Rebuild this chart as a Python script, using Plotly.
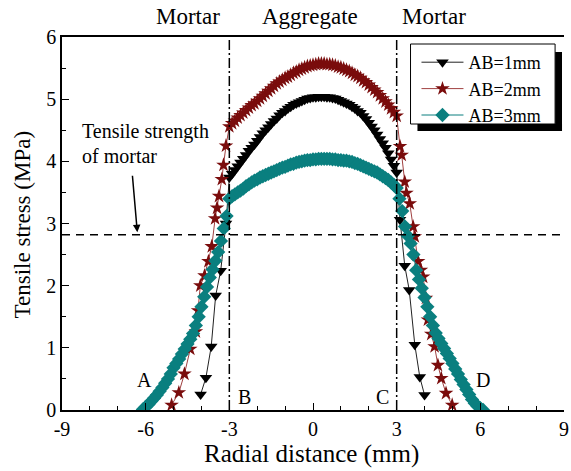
import plotly.graph_objects as go

# ---------------- data ----------------
inner_x = [-3.0, -2.9, -2.8, -2.7, -2.6, -2.5, -2.4, -2.3, -2.2, -2.1, -2.0, -1.9, -1.8, -1.7, -1.6,
           -1.5, -1.4, -1.3, -1.2, -1.1, -1.0, -0.9, -0.8, -0.7, -0.6, -0.5, -0.4, -0.3, -0.2, -0.1,
           0.0, 0.1, 0.2, 0.3, 0.4, 0.5, 0.6, 0.7, 0.8, 0.9, 1.0, 1.1, 1.2, 1.3, 1.4,
           1.5, 1.6, 1.7, 1.8, 1.9, 2.0, 2.1, 2.2, 2.3, 2.4, 2.5, 2.6, 2.7, 2.8, 2.9, 3.0]

ab1_inner = [3.74, 3.80, 3.86, 3.92, 3.98, 4.04, 4.10, 4.17, 4.22, 4.27, 4.33, 4.39, 4.45, 4.50, 4.55,
             4.60, 4.65, 4.69, 4.74, 4.78, 4.81, 4.85, 4.88, 4.91, 4.93, 4.95, 4.97, 4.99, 5.01, 5.02,
             5.03, 5.03, 5.04, 5.04, 5.04, 5.03, 5.03, 5.02, 5.01, 4.99, 4.97, 4.95, 4.93, 4.91, 4.88,
             4.85, 4.81, 4.78, 4.73, 4.68, 4.62, 4.56, 4.50, 4.43, 4.36, 4.29, 4.22, 4.13, 4.03, 3.93, 3.82]
ab1_left_x = [-4.03, -3.84, -3.65, -3.49, -3.31, -3.12]
ab1_left_y = [0.25, 0.52, 1.02, 1.84, 2.24, 3.00]
ab1_right_x = [3.12, 3.29, 3.45, 3.65, 3.83, 4.00]
ab1_right_y = [3.06, 2.32, 1.93, 1.05, 0.53, 0.24]

ab2_inner = [4.56, 4.61, 4.65, 4.70, 4.74, 4.78, 4.82, 4.86, 4.90, 4.93, 4.97, 5.01, 5.05, 5.09, 5.13,
             5.17, 5.21, 5.25, 5.28, 5.31, 5.34, 5.36, 5.39, 5.42, 5.44, 5.47, 5.49, 5.51, 5.53, 5.54,
             5.55, 5.56, 5.57, 5.57, 5.57, 5.56, 5.56, 5.55, 5.54, 5.52, 5.51, 5.49, 5.47, 5.45, 5.42,
             5.39, 5.37, 5.34, 5.30, 5.27, 5.23, 5.19, 5.15, 5.11, 5.06, 5.01, 4.96, 4.91, 4.85, 4.79, 4.73]
ab2_left_x = [-5.07, -4.81, -4.61, -4.40, -4.20, -4.12, -4.04, -3.89, -3.75, -3.63, -3.51, -3.44,
              -3.37, -3.27, -3.21, -3.12]
ab2_left_y = [0.08, 0.28, 0.58, 0.98, 1.26, 1.60, 2.00, 2.16, 2.39, 2.63, 3.08, 3.25,
              3.44, 3.71, 3.94, 4.25]
ab2_right_x = [3.12, 3.18, 3.29, 3.35, 3.47, 3.59, 3.65, 3.77, 3.87, 3.95, 4.05, 4.12, 4.24,
               4.36, 4.48, 4.60, 4.77, 4.99]
ab2_right_y = [4.24, 4.10, 3.67, 3.49, 3.32, 2.95, 2.79, 2.39, 2.25, 2.14, 1.80, 1.45, 1.22,
               1.02, 0.72, 0.51, 0.27, 0.08]

ab3_inner = [3.40, 3.44, 3.47, 3.50, 3.53, 3.56, 3.60, 3.63, 3.66, 3.69, 3.71, 3.74, 3.76, 3.78, 3.80,
             3.82, 3.84, 3.86, 3.88, 3.90, 3.91, 3.93, 3.95, 3.96, 3.98, 3.99, 4.00, 4.01, 4.02, 4.02,
             4.03, 4.03, 4.04, 4.04, 4.04, 4.04, 4.04, 4.03, 4.03, 4.02, 4.02, 4.01, 4.01, 4.00, 3.99,
             3.97, 3.96, 3.94, 3.92, 3.90, 3.88, 3.86, 3.84, 3.82, 3.79, 3.76, 3.73, 3.70, 3.66, 3.62, 3.57]
ab3_left_x = [-6.1, -6.0, -5.9, -5.8, -5.7, -5.6, -5.5, -5.4, -5.3, -5.2, -5.1, -5.0, -4.9, -4.8,
              -4.7, -4.6, -4.5, -4.4, -4.3, -4.2, -4.1, -4.0, -3.9, -3.8, -3.7, -3.6, -3.5, -3.4,
              -3.3, -3.2, -3.1]
ab3_left_y = [0.01, 0.05, 0.09, 0.14, 0.19, 0.24, 0.30, 0.36, 0.43, 0.50, 0.58, 0.68, 0.75, 0.82,
              0.90, 0.98, 1.06, 1.14, 1.23, 1.36, 1.50, 1.66, 1.82, 1.98, 2.13, 2.26, 2.40, 2.54,
              2.72, 2.92, 3.12]
ab3_right_x = [3.1, 3.2, 3.3, 3.4, 3.5, 3.6, 3.7, 3.8, 3.9, 4.0, 4.1, 4.2, 4.3, 4.4, 4.5, 4.6,
               4.7, 4.8, 4.9, 5.0, 5.1, 5.2, 5.3, 5.4, 5.5, 5.6, 5.7, 5.8, 5.9, 6.0, 6.1]
ab3_right_y = [3.40, 3.20, 2.95, 2.80, 2.68, 2.50, 2.25, 2.10, 1.96, 1.81, 1.66, 1.50, 1.36, 1.24,
               1.15, 1.07, 0.99, 0.91, 0.83, 0.75, 0.66, 0.58, 0.49, 0.41, 0.33, 0.25, 0.17, 0.11,
               0.06, 0.03, 0.00]

series_names = ["AB=1mm", "AB=2mm", "AB=3mm"]
mortar_strength = 2.82
interface_x = [-3, 3]
x_ticks = [-9, -6, -3, 0, 3, 6, 9]
y_ticks = [0, 1, 2, 3, 4, 5, 6]

FONT = "Liberation Serif"

# plot-area pixel geometry (used only to place paper-referenced decorations)
L, R, T, B = 62, 569, 37, 410
W, H = R - L, B - T


def px(xp):
    return (xp - L) / W


def py(yp):
    return (B - yp) / H


fig = go.Figure()


def add_series(name, lx, ly, iy, rx, ry, msym, msize, mcol, lcol):
    fig.add_trace(go.Scatter(
        x=lx + inner_x + rx, y=ly + iy + ry, name=name, mode="lines+markers",
        line=dict(color=lcol, width=1),
        marker=dict(symbol=msym, size=msize, color=mcol, line=dict(width=0)),
    ))


add_series(series_names[0], ab1_left_x, ab1_left_y, ab1_inner, ab1_right_x, ab1_right_y,
           "triangle-down", 11, "#000000", "#222222")
add_series(series_names[1], ab2_left_x, ab2_left_y, ab2_inner, ab2_right_x, ab2_right_y,
           "star", 11, "#7a0c0c", "#a04040")
add_series(series_names[2], ab3_left_x, ab3_left_y, ab3_inner, ab3_right_x, ab3_right_y,
           "diamond", 11, "#0a7f7f", "#0a7f7f")

# reference lines
fig.add_shape(type="line", xref="x", yref="y", x0=-9, x1=9, y0=mortar_strength, y1=mortar_strength,
              line=dict(color="black", width=1.5, dash="8px,6px"), layer="above")
for xv in interface_x:
    fig.add_shape(type="line", xref="x", yref="y", x0=xv, x1=xv, y0=0, y1=6,
                  line=dict(color="black", width=1.5, dash="10px,3px,2px,3px"), layer="above")

# legend frame + shadow
fig.add_shape(type="rect", xref="paper", yref="paper", x0=px(560), x1=px(567), y0=py(131), y1=py(52),
              line=dict(width=0), fillcolor="black", layer="above")
fig.add_shape(type="rect", xref="paper", yref="paper", x0=px(421), x1=px(567), y0=py(131), y1=py(124),
              line=dict(width=0), fillcolor="black", layer="above")
fig.add_shape(type="rect", xref="paper", yref="paper", x0=px(414), x1=px(560), y0=py(124), y1=py(44),
              line=dict(width=1, color="black"), fillcolor="white", layer="above")

tf = dict(family=FONT, size=20, color="black")
annotations = [
    dict(text="Tensile strength", xref="paper", yref="paper", x=px(80), y=py(131),
         xanchor="left", yanchor="middle", showarrow=False, font=tf),
    dict(text="of mortar", xref="paper", yref="paper", x=px(80), y=py(156),
         xanchor="left", yanchor="middle", showarrow=False, font=tf),
    dict(text="", x=-6.30, y=2.86, xref="x", yref="y", ax=-5, ay=-58, showarrow=True,
         arrowhead=2, arrowsize=1, arrowwidth=1.5, arrowcolor="black"),
    dict(text="A", x=-6.05, y=0.48, xref="x", yref="y", showarrow=False, font=tf),
    dict(text="B", x=-2.47, y=0.21, xref="x", yref="y", showarrow=False, font=tf),
    dict(text="C", x=2.50, y=0.21, xref="x", yref="y", showarrow=False, font=tf),
    dict(text="D", x=6.09, y=0.48, xref="x", yref="y", showarrow=False, font=tf),
    dict(text="Mortar", xref="paper", yref="paper", x=px(189), y=py(17), xanchor="center",
         yanchor="middle", showarrow=False, font=dict(family=FONT, size=23, color="black")),
    dict(text="Aggregate", xref="paper", yref="paper", x=px(312), y=py(17), xanchor="center",
         yanchor="middle", showarrow=False, font=dict(family=FONT, size=23, color="black")),
    dict(text="Mortar", xref="paper", yref="paper", x=px(438), y=py(17), xanchor="center",
         yanchor="middle", showarrow=False, font=dict(family=FONT, size=23, color="black")),
    dict(text="Radial distance (mm)", xref="paper", yref="paper", x=px(314), y=py(454),
         xanchor="center", yanchor="middle", showarrow=False,
         font=dict(family=FONT, size=25, color="black")),
    dict(text="Tensile stress (MPa)", xref="paper", yref="paper", x=px(22), y=py(225),
         xanchor="center", yanchor="middle", textangle=-90, showarrow=False,
         font=dict(family=FONT, size=23, color="black")),
]

fig.update_layout(
    width=571, height=471,
    margin=dict(l=L, r=571 - R, t=T, b=471 - B),
    paper_bgcolor="white", plot_bgcolor="white",
    font=dict(family=FONT, size=20, color="black"),
    showlegend=True,
    legend=dict(x=px(420), y=py(44), xanchor="left", yanchor="top", bgcolor="rgba(0,0,0,0)",
                borderwidth=0, font=dict(family=FONT, size=18, color="black"),
                tracegroupgap=0, itemsizing="trace", itemwidth=42),
    annotations=annotations,
    xaxis=dict(range=[-9, 9], tickvals=x_ticks, ticktext=[str(v) for v in x_ticks],
               ticks="inside", ticklen=7, tickwidth=1, tickcolor="black",
               minor=dict(dtick=1, ticks="inside", ticklen=4, tickcolor="black"),
               showline=True, linecolor="black", linewidth=1.5, mirror=True,
               showgrid=False, zeroline=False, ticklabeloverflow="allow",
               tickfont=dict(family=FONT, size=20, color="black")),
    yaxis=dict(range=[0, 6], tickvals=y_ticks, ticktext=[str(v) for v in y_ticks],
               ticks="inside", ticklen=7, tickwidth=1, tickcolor="black",
               minor=dict(dtick=0.5, ticks="inside", ticklen=4, tickcolor="black"),
               showline=True, linecolor="black", linewidth=1.5, mirror=False,
               showgrid=False, zeroline=False,
               tickfont=dict(family=FONT, size=20, color="black")),
)

fig.write_html("out.html", config={"displayModeBar": False},
               post_script="document.body.style.margin='0px';document.body.style.overflow='hidden';")
